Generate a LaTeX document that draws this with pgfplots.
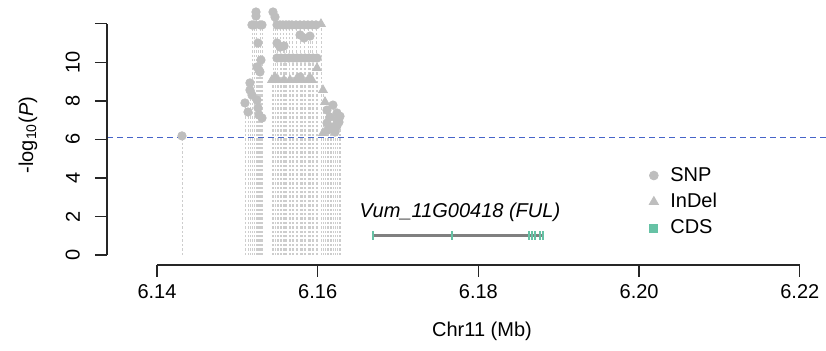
\documentclass[border=0pt]{standalone}
\usepackage{pgfplots}
\pgfplotsset{compat=1.18}
\usepackage{pgfplotstable}
\usepackage{fontspec}
\setmainfont{Liberation Sans}
\definecolor{ptgray}{HTML}{BEBEBE}
\definecolor{lngray}{HTML}{CDCDCD}
\definecolor{thrblue}{RGB}{70,100,200}
\definecolor{cdsgreen}{HTML}{66C2A5}
\definecolor{genegray}{HTML}{808080}
\tikzset{vline/.style={draw=lngray, line width=0.35pt, dash pattern=on 1.2pt off 1pt}}

\pgfplotstableread{
x y
6.14311 6.18
6.15095 7.89
6.15133 7.42
6.15157 8.56
6.15157 8.93
6.15182 11.94
6.15207 11.94
6.15232 12.61
6.15232 12.40
6.15257 11.00
6.15245 9.76
6.15269 9.60
6.15294 10.12
6.15307 11.94
6.15282 11.94
6.15269 7.27
6.15307 7.11
6.15245 8.04
6.15182 8.30
6.15257 7.63
6.15282 9.50
6.15444 12.61
6.15469 12.35
6.15494 11.94
6.15531 11.94
6.15568 11.94
6.15606 11.94
6.15643 11.94
6.15680 11.94
6.15730 11.94
6.15780 11.94
6.15830 11.94
6.15879 11.94
6.15929 11.94
6.15979 11.94
6.15780 11.42
6.15830 11.26
6.15904 11.36
6.15494 11.00
6.15531 10.79
6.15581 10.85
6.15494 10.22
6.15543 10.22
6.15593 10.22
6.15643 10.22
6.15693 10.22
6.15742 10.22
6.15792 10.22
6.15842 10.22
6.15892 10.22
6.15942 10.22
6.15991 10.22
6.15780 9.24
6.16190 7.78
6.16116 7.52
6.16240 7.37
6.16153 7.16
6.16240 7.01
6.16116 6.85
6.16190 6.64
6.16128 6.49
6.16215 6.38
6.16265 6.90
6.16240 6.70
6.16278 7.20
6.16165 6.55
}\snp

\pgfplotstableread{
x y
6.16041 11.99
6.15431 9.08
6.15506 9.08
6.15581 9.08
6.15655 9.08
6.15730 9.08
6.15805 9.08
6.15879 9.08
6.15929 9.08
6.15469 9.24
6.15991 9.70
6.15904 9.19
6.16066 8.56
6.16091 7.94
6.16066 6.33
}\indel

\begin{document}
\begin{tikzpicture}[x=1pt,y=1pt]
\useasboundingbox (0,0) rectangle (413,175.5);
\begin{axis}[
  at={(53.5pt,43pt)}, anchor=south west,
  scale only axis, width=375pt, height=130.25pt,
  xmin=6.13378, xmax=6.22712, ymin=-0.519, ymax=13.0,
  clip=false, unbounded coords=jump,
  axis x line*=bottom, axis y line*=left,
  axis line style={draw=none},
  tick align=outside, major tick length=6pt,
  tick style={black!85, line width=0.7pt},
  xtick={6.14,6.16,6.18,6.20,6.22},
  xticklabels={6.14,6.16,6.18,6.20,6.22},
  ytick={0,2,4,6,8,10,12},
  yticklabels={0,2,4,6,8,10,},
  font=\fontsize{10}{12}\selectfont,
  yticklabel style={xshift=-4pt, rotate=90, anchor=south},
  legend style={at={(axis cs:6.20048,5.0)}, anchor=north west, draw=none, fill=none,
    font=\fontsize{10}{12}\selectfont, row sep=0.5pt,
    /tikz/every odd column/.append style={column sep=4pt}},
  legend cell align=left,
  legend image code/.code={\draw plot[#1] coordinates {(0pt,0pt)};},
]
\addlegendimage{only marks, mark=*, mark size=2.2pt, ptgray}
\addlegendentry{SNP}
\addlegendimage{only marks, mark=triangle*, mark size=2.6pt, ptgray}
\addlegendentry{InDel}
\addlegendimage{only marks, mark=square*, mark size=2pt, cdsgreen}
\addlegendentry{CDS}

\addplot[vline, ycomb, no marks, forget plot] table {\snp};
\addplot[vline, ycomb, no marks, forget plot] table {\indel};
\addplot[forget plot, only marks, mark=*, mark size=2.1pt, ptgray] table {\snp};
\addplot[forget plot, only marks, mark=triangle*, mark size=2.5pt, ptgray] table {\indel};
% threshold at -log10(P) = 6.1, as dashes
\addplot[thrblue, line width=0.9pt] coordinates {
(6.13378,6.1) (6.13453,6.1) (6.13453,nan) (6.13503,6.1) (6.13578,6.1) (6.13578,nan) (6.13628,6.1) (6.13703,6.1) (6.13703,nan) (6.13753,6.1) (6.13828,6.1) (6.13828,nan)
(6.13878,6.1) (6.13953,6.1) (6.13953,nan) (6.14003,6.1) (6.14078,6.1) (6.14078,nan) (6.14128,6.1) (6.14203,6.1) (6.14203,nan) (6.14253,6.1) (6.14328,6.1) (6.14328,nan)
(6.14378,6.1) (6.14453,6.1) (6.14453,nan) (6.14503,6.1) (6.14578,6.1) (6.14578,nan) (6.14628,6.1) (6.14703,6.1) (6.14703,nan) (6.14753,6.1) (6.14828,6.1) (6.14828,nan)
(6.14878,6.1) (6.14953,6.1) (6.14953,nan) (6.15003,6.1) (6.15078,6.1) (6.15078,nan) (6.15128,6.1) (6.15203,6.1) (6.15203,nan) (6.15253,6.1) (6.15328,6.1) (6.15328,nan)
(6.15378,6.1) (6.15453,6.1) (6.15453,nan) (6.15503,6.1) (6.15578,6.1) (6.15578,nan) (6.15628,6.1) (6.15703,6.1) (6.15703,nan) (6.15753,6.1) (6.15828,6.1) (6.15828,nan)
(6.15878,6.1) (6.15953,6.1) (6.15953,nan) (6.16003,6.1) (6.16078,6.1) (6.16078,nan) (6.16128,6.1) (6.16203,6.1) (6.16203,nan) (6.16253,6.1) (6.16328,6.1) (6.16328,nan)
(6.16378,6.1) (6.16453,6.1) (6.16453,nan) (6.16503,6.1) (6.16578,6.1) (6.16578,nan) (6.16628,6.1) (6.16703,6.1) (6.16703,nan) (6.16753,6.1) (6.16828,6.1) (6.16828,nan)
(6.16878,6.1) (6.16953,6.1) (6.16953,nan) (6.17003,6.1) (6.17078,6.1) (6.17078,nan) (6.17128,6.1) (6.17203,6.1) (6.17203,nan) (6.17253,6.1) (6.17328,6.1) (6.17328,nan)
(6.17378,6.1) (6.17453,6.1) (6.17453,nan) (6.17503,6.1) (6.17578,6.1) (6.17578,nan) (6.17628,6.1) (6.17703,6.1) (6.17703,nan) (6.17753,6.1) (6.17828,6.1) (6.17828,nan)
(6.17878,6.1) (6.17953,6.1) (6.17953,nan) (6.18003,6.1) (6.18078,6.1) (6.18078,nan) (6.18128,6.1) (6.18203,6.1) (6.18203,nan) (6.18253,6.1) (6.18328,6.1) (6.18328,nan)
(6.18378,6.1) (6.18453,6.1) (6.18453,nan) (6.18503,6.1) (6.18578,6.1) (6.18578,nan) (6.18628,6.1) (6.18703,6.1) (6.18703,nan) (6.18753,6.1) (6.18828,6.1) (6.18828,nan)
(6.18878,6.1) (6.18953,6.1) (6.18953,nan) (6.19003,6.1) (6.19078,6.1) (6.19078,nan) (6.19128,6.1) (6.19203,6.1) (6.19203,nan) (6.19253,6.1) (6.19328,6.1) (6.19328,nan)
(6.19378,6.1) (6.19453,6.1) (6.19453,nan) (6.19503,6.1) (6.19578,6.1) (6.19578,nan) (6.19628,6.1) (6.19703,6.1) (6.19703,nan) (6.19753,6.1) (6.19828,6.1) (6.19828,nan)
(6.19878,6.1) (6.19953,6.1) (6.19953,nan) (6.20003,6.1) (6.20078,6.1) (6.20078,nan) (6.20128,6.1) (6.20203,6.1) (6.20203,nan) (6.20253,6.1) (6.20328,6.1) (6.20328,nan)
(6.20378,6.1) (6.20453,6.1) (6.20453,nan) (6.20503,6.1) (6.20578,6.1) (6.20578,nan) (6.20628,6.1) (6.20703,6.1) (6.20703,nan) (6.20753,6.1) (6.20828,6.1) (6.20828,nan)
(6.20878,6.1) (6.20953,6.1) (6.20953,nan) (6.21003,6.1) (6.21078,6.1) (6.21078,nan) (6.21128,6.1) (6.21203,6.1) (6.21203,nan) (6.21253,6.1) (6.21328,6.1) (6.21328,nan)
(6.21378,6.1) (6.21453,6.1) (6.21453,nan) (6.21503,6.1) (6.21578,6.1) (6.21578,nan) (6.21628,6.1) (6.21703,6.1) (6.21703,nan) (6.21753,6.1) (6.21828,6.1) (6.21828,nan)
(6.21878,6.1) (6.21953,6.1) (6.21953,nan) (6.22003,6.1) (6.22078,6.1) (6.22078,nan) (6.22128,6.1) (6.22203,6.1) (6.22203,nan) (6.22253,6.1) (6.22328,6.1) (6.22328,nan)
(6.22378,6.1) (6.22453,6.1)
};
\addplot[forget plot, genegray, line width=1.5pt] coordinates {(6.16688,1) (6.18804,1)};
\addplot[forget plot, only marks, mark=|, mark size=2.3pt, cdsgreen, mark options={line width=0.8pt}] coordinates {(6.16688,1) (6.17672,1) (6.18630,1) (6.18667,1) (6.18705,1) (6.18767,1) (6.18804,1)};
\draw[black!85, line width=0.7pt] (axis cs:6.14,-0.519) -- (axis cs:6.22,-0.519);
\draw[black!85, line width=0.7pt] (axis cs:6.13378,0) -- (axis cs:6.13378,12);
\node[font=\fontsize{10}{12}\selectfont\itshape] at (axis cs:6.17771,2.23) {Vum\_11G00418 (FUL)};
\end{axis}
\node[rotate=90, font=\fontsize{10}{12}\selectfont] at (14,108) {-log\textsubscript{10}(\textit{P})};
\node[font=\fontsize{10}{12}\selectfont] at (241,10) {Chr11 (Mb)};
\end{tikzpicture}
\end{document}
